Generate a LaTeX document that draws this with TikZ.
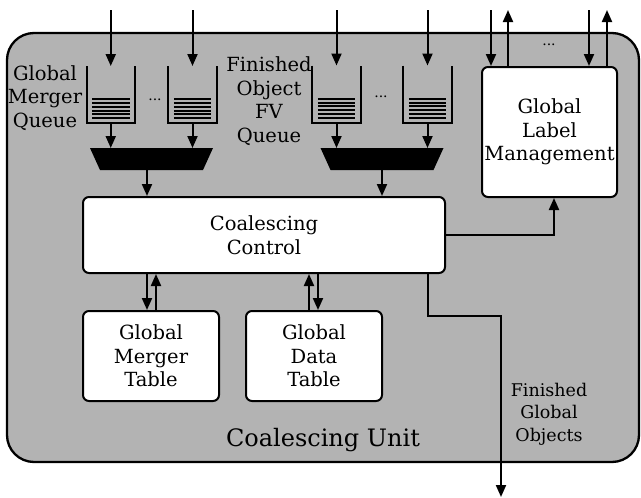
\documentclass[tikz,border=0pt]{standalone}
\usepackage{fontspec}
\setmainfont{DejaVu Serif}
\usetikzlibrary{arrows.meta}
\definecolor{unitgray}{HTML}{B3B3B3}
\newcommand\myqueue[1]{%
  \draw (#1.north west) -- (#1.south west) -- (#1.south east) -- (#1.north east);
  \foreach \k in {0,...,5}{
    \draw[line width=2pt] ([xshift=5.5pt,yshift={4.8pt+3.8pt*\k}]#1.south west) -- ([xshift=-5.5pt,yshift={4.8pt+3.8pt*\k}]#1.south east);
  }%
}
\newcommand\mymux[1]{%
  \fill (#1.north west) -- (#1.north east) -- ([xshift=-10pt]#1.south east) -- ([xshift=10pt]#1.south west) -- cycle;
}
\begin{document}
\begin{tikzpicture}[x=1pt,y=-1pt,
  line width=2pt,
  arr/.style={-{Triangle[length=12pt,width=10pt]}, line width=2pt},
  blk/.style={draw, fill=white, rounded corners=6pt, align=center, font=\fontsize{19.5}{23.5}\selectfont, inner sep=0pt},
  lbl/.style={align=center, font=\fontsize{19.5}{23.5}\selectfont, inner sep=0pt},
  que/.style={minimum width=46.5pt, minimum height=55pt, inner sep=0pt},
  mux/.style={minimum width=121pt, minimum height=20pt, inner sep=0pt},
  dots/.style={font=\fontsize{14}{16}\selectfont, inner sep=0pt},
]
\useasboundingbox (0,0) rectangle (641,498);
\draw[fill=unitgray, line width=2.3pt, rounded corners=27pt] (7,33) rectangle (639,462);

% queues
\node[que] (q1) at (110.75,94.5) {};
\node[que] (q2) at (192.5,94.5) {};
\node[que] (q3) at (336.5,94) {};
\node[que] (q4) at (427.5,94) {};
\myqueue{q1}\myqueue{q2}\myqueue{q3}\myqueue{q4}
\node[dots] (d1) at (155,100) {...};
\node[dots] (d2) at (381,97) {...};
\node[dots] (d3) at (549,45) {...};

% muxes
\node[mux] (m1) at (151.5,159) {};
\node[mux] (m2) at (382,159) {};
\mymux{m1}\mymux{m2}

% labels
\node[lbl] (lq1) at (45,98) {Global\\Merger\\Queue};
\node[lbl] (lq2) at (269,101) {Finished\\Object\\FV\\Queue};
\node[font=\fontsize{24}{28}\selectfont, inner sep=0pt] (unit) at (323,440) {Coalescing Unit};
\node[align=center, font=\fontsize{17.5}{22.5}\selectfont, inner sep=0pt] (fgo) at (549,414) {Finished\\Global\\Objects};

% blocks
\node[blk, minimum width=362pt, minimum height=76pt] (ctrl) at (264,235) {Coalescing\\Control};
\node[blk, minimum width=135pt, minimum height=130pt] (glm) at (549.5,132) {Global\\Label\\Management};
\node[blk, minimum width=136pt, minimum height=90pt] (mt) at (151,356) {Global\\Merger\\Table};
\node[blk, minimum width=136pt, minimum height=90pt] (dt) at (314,356) {Global\\Data\\Table};

% inputs
\coordinate (i1) at (110.75,10);
\coordinate (i2) at (192.5,10);
\coordinate (i3) at (336.5,10);
\coordinate (i4) at (427.5,10);
\draw[arr] (i1) -- (q1.north);
\draw[arr] (i2) -- (q2.north);
\draw[arr] (i3) -- (q3.north);
\draw[arr] (i4) -- (q4.north);

% queue -> mux
\draw[arr] (q1.south) -- (q1.south |- m1.north);
\draw[arr] (q2.south) -- (q2.south |- m1.north);
\draw[arr] (q3.south) -- (q3.south |- m2.north);
\draw[arr] (q4.south) -- (q4.south |- m2.north);

% mux -> ctrl
\draw[arr] ([xshift=-4.5pt]m1.south) -- ([xshift=-4.5pt]m1.south |- ctrl.north);
\draw[arr] (m2.south) -- (m2.south |- ctrl.north);

% GLM I/O
\coordinate (g1) at (491,10);
\coordinate (g2) at (508,10);
\coordinate (g3) at (589,10);
\coordinate (g4) at (607,10);
\draw[arr] (g1) -- (g1 |- glm.north);
\draw[arr] (g2 |- glm.north) -- (g2);
\draw[arr] (g3) -- (g3 |- glm.north);
\draw[arr] (g4 |- glm.north) -- (g4);

% ctrl -> glm
\draw[arr] (ctrl.east) -| ([xshift=4.5pt]glm.south);

% ctrl <-> tables
\draw[arr] ([xshift=-4pt]mt.north |- ctrl.south) -- ([xshift=-4pt]mt.north);
\draw[arr] ([xshift=5pt]mt.north) -- ([xshift=5pt]mt.north |- ctrl.south);
\draw[arr] ([xshift=-5pt]dt.north) -- ([xshift=-5pt]dt.north |- ctrl.south);
\draw[arr] ([xshift=4pt]dt.north |- ctrl.south) -- ([xshift=4pt]dt.north);

% finished output
\coordinate (out) at (501,497);
\draw[arr] ([xshift=-18pt]ctrl.south east) |- (out |- 0,316) -- (out);
\end{tikzpicture}
\end{document}
